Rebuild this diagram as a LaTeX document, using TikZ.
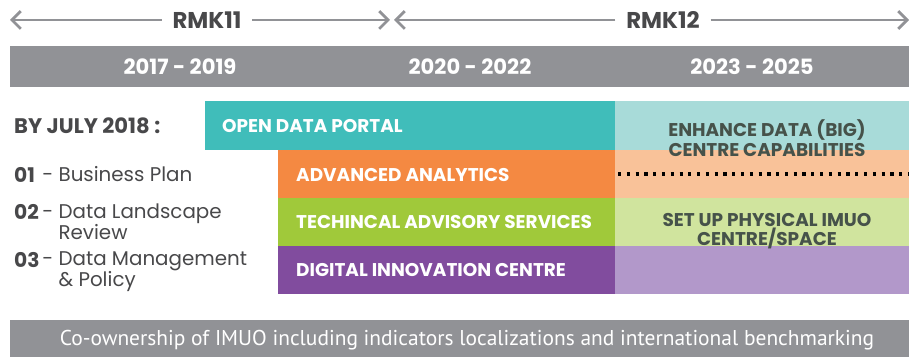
\documentclass[tikz,border=0pt]{standalone}
\usepackage{fontspec}
\setmainfont{Poppins}
\newfontfamily\narrowfont{PT Sans}
\usetikzlibrary{calc,arrows.meta}

\definecolor{barGray}{RGB}{145,146,150}
\definecolor{textGray}{RGB}{72,72,74}
\definecolor{noteGray}{RGB}{70,82,74}
\definecolor{tealA}{RGB}{64,189,186}
\definecolor{tealB}{RGB}{168,219,217}
\definecolor{orangeA}{RGB}{244,137,66}
\definecolor{orangeB}{RGB}{249,194,153}
\definecolor{greenA}{RGB}{160,201,58}
\definecolor{greenB}{RGB}{208,228,158}
\definecolor{purpleA}{RGB}{129,76,158}
\definecolor{purpleB}{RGB}{178,152,202}

\tikzset{
  period/.style={draw=barGray, line width=1.4pt, -{Straight Barb[length=5pt,width=10pt,line width=1.6pt]}},
  rmklabel/.style={text=textGray, font=\bfseries\fontsize{13}{13}\selectfont, inner xsep=6pt},
  yearlabel/.style={text=white, font=\bfseries\fontsize{12}{12}\selectfont},
  tasklabel/.style={anchor=west, text=white, font=\bfseries\fontsize{10.5}{10.5}\selectfont},
  notelabel/.style={text=noteGray, font=\bfseries\fontsize{10.5}{11}\selectfont, align=center},
  listnum/.style={anchor=west, text=textGray, font=\bfseries\fontsize{11.5}{11.5}\selectfont},
  listitem/.style={anchor=north west, text=textGray, font=\fontsize{11.3}{12.2}\selectfont, align=left, inner sep=0pt}
}

\begin{document}
\begin{tikzpicture}[x=0.02cm, y=-0.02cm]
  \useasboundingbox (0,0) rectangle (909,357);

  % plan periods
  \node [rmklabel] (rmk11) at (207,20) {RMK11};
  \node [rmklabel] (rmk12) at (663,20) {RMK12};
  \coordinate (s11) at (10,20);
  \coordinate (e11) at (390,20);
  \coordinate (s12) at (394,20);
  \coordinate (e12) at (909,20);
  \draw [period] (rmk11) -- (s11);
  \draw [period] (rmk11) -- (e11);
  \draw [period] (rmk12) -- (s12);
  \draw [period] (rmk12) -- (e12);

  % years
  \fill [barGray] (10,46) rectangle (909,87);
  \node [yearlabel] (y1) at (180,67) {2017 - 2019};
  \node [yearlabel] (y2) at (470,67) {2020 - 2022};
  \node [yearlabel] (y3) at (752,67) {2023 - 2025};

  % tasks
  \fill [tealA] (205,101) rectangle (615,150);
  \fill [tealB] (615,101) rectangle (909,150);
  \fill [orangeA] (278,150) rectangle (615,198);
  \fill [orangeB] (615,150) rectangle (909,198);
  \fill [greenA] (278,198) rectangle (615,246);
  \fill [greenB] (615,198) rectangle (909,246);
  \fill [purpleA] (278,246) rectangle (615,294);
  \fill [purpleB] (615,246) rectangle (909,294);

  \node [tasklabel] (odp) at (216,126) {OPEN DATA PORTAL};
  \node [tasklabel] (aa) at (290,175) {ADVANCED ANALYTICS};
  \node [tasklabel] (tas) at (290,222) {TECHINCAL ADVISORY SERVICES};
  \node [tasklabel] (dic) at (290,270) {DIGITAL INNOVATION CENTRE};

  \node [notelabel] (big) at (767,138) {ENHANCE DATA (BIG)\\CENTRE CAPABILITIES};
  \node [notelabel] (imuo) at (767,231) {SET UP PHYSICAL IMUO\\CENTRE/SPACE};
  \coordinate (d0) at (618,174);
  \coordinate (d1) at (909,174);
  \draw [line width=1.8pt, dash pattern=on 1.8pt off 3.2pt] (d0) -- (d1);

  % done by july 2018
  \node [listnum, font=\bfseries\fontsize{12}{12}\selectfont] (by) at (8,126) {BY JULY 2018 :};
  \node [listnum] (n1) at (8,175) {01};
  \node [listnum] (n2) at (8,212) {02};
  \node [listnum] (n3) at (8,260) {03};
  \node [listitem] (i1) at (42,166) {- Business Plan};
  \node [listitem] (i2) at (42,203) {- Data Landscape\\ \phantom{- }Review};
  \node [listitem] (i3) at (42,251) {- Data Management\\ \phantom{- }\& Policy};

  % bottom
  \fill [barGray] (10,320) rectangle (909,357);
  \node [text=white, font=\narrowfont\fontsize{12.2}{12.2}\selectfont] (co) at (467,340)
    {Co-ownership of IMUO including indicators localizations and international benchmarking};
\end{tikzpicture}
\end{document}
